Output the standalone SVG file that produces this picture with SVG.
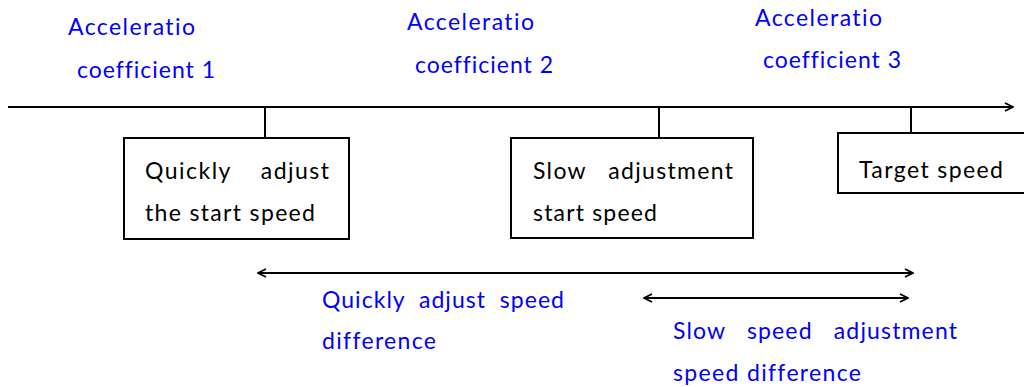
<svg xmlns="http://www.w3.org/2000/svg" width="1024" height="387" viewBox="0 0 1024 387" xml:space="preserve">
<defs>
<style>
.t{font-family:Lato,"Liberation Sans",sans-serif;font-size:23px;font-variant-ligatures:none;font-feature-settings:"liga" 0,"clig" 0;white-space:pre}
.b{fill:#0000ff}
.k{fill:#000}
.ln{stroke:#000;stroke-width:2;fill:none}
.box{fill:#fff;stroke:#000;stroke-width:2}
</style>
<marker id="ah" viewBox="0 0 10 10" refX="9" refY="5" markerWidth="10" markerHeight="10" markerUnits="userSpaceOnUse" orient="auto-start-reverse">
<path d="M1,1 L9,5 L1,9" fill="none" stroke="#000" stroke-width="1.8"/>
</marker>
</defs>
<rect width="1024" height="387" fill="#fff"/>
<g id="labels">
<text class="t b" x="68" y="35" textLength="127">Acceleratio</text>
<text class="t b" x="77" y="78" textLength="138">coefficient 1</text>
<text class="t b" x="407" y="30" textLength="127">Acceleratio</text>
<text class="t b" x="415" y="73" textLength="138">coefficient 2</text>
<text class="t b" x="755" y="26" textLength="127">Acceleratio</text>
<text class="t b" x="763" y="68" textLength="138">coefficient 3</text>
</g>
<g id="connectors">
<line class="ln" x1="8" y1="107" x2="1013" y2="107" marker-end="url(#ah)"/>
<line class="ln" x1="265" y1="107" x2="265" y2="138"/>
<line class="ln" x1="659" y1="107" x2="659" y2="138"/>
<line class="ln" x1="911" y1="107" x2="911" y2="133"/>
<line class="ln" x1="258" y1="273" x2="913" y2="273" marker-start="url(#ah)" marker-end="url(#ah)"/>
<line class="ln" x1="644" y1="298" x2="908" y2="298" marker-start="url(#ah)" marker-end="url(#ah)"/>
</g>
<g id="node1">
<rect class="box" x="124" y="138" width="225" height="101"/>
<text class="t k" x="145" y="179" textLength="184">Quickly    adjust</text>
<text class="t k" x="145" y="221" textLength="170">the start speed</text>
</g>
<g id="node2">
<rect class="box" x="511" y="138" width="242" height="100"/>
<text class="t k" x="533" y="179" textLength="200">Slow   adjustment</text>
<text class="t k" x="533" y="221" textLength="124">start speed</text>
</g>
<g id="node3">
<rect class="box" x="838" y="133" width="200" height="60"/>
<text class="t k" x="859" y="178" textLength="144">Target speed</text>
</g>
<g id="diffs">
<text class="t b" x="322" y="308" textLength="242">Quickly  adjust  speed</text>
<text class="t b" x="322" y="349" textLength="114">difference</text>
<text class="t b" x="673" y="339" textLength="284">Slow   speed   adjustment</text>
<text class="t b" x="673" y="381" textLength="188">speed difference</text>
</g>
</svg>
